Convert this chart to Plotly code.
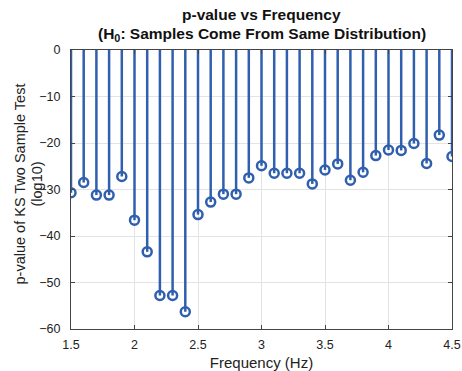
import plotly.graph_objects as go

freq = [1.5, 1.6, 1.7, 1.8, 1.9, 2.0, 2.1, 2.2, 2.3, 2.4, 2.5, 2.6, 2.7, 2.8, 2.9,
        3.0, 3.1, 3.2, 3.3, 3.4, 3.5, 3.6, 3.7, 3.8, 3.9, 4.0, 4.1, 4.2, 4.3, 4.4, 4.5]
log_p = [-30.7, -28.5, -31.2, -31.2, -27.2, -36.6, -43.4, -52.8, -52.8, -56.3, -35.4,
         -32.7, -31.0, -31.0, -27.5, -24.9, -26.5, -26.5, -26.5, -28.8, -25.8, -24.5,
         -28.0, -26.3, -22.7, -21.5, -21.6, -20.1, -24.4, -18.3, -22.9]
x_ticks = [1.5, 2, 2.5, 3, 3.5, 4, 4.5]
y_ticks = [-60, -50, -40, -30, -20, -10, 0]
title_lines = ["p-value vs Frequency", "(H<sub>0</sub>: Samples Come From Same Distribution)"]
ytitle_lines = ["p-value of KS Two Sample Test", "(log10)"]

color = "#2f5fae"
font = "Liberation Sans, Arial, sans-serif"

sx, sy = [], []
for f, v in zip(freq, log_p):
    sx += [f, f, None]
    sy += [0, v, None]

fig = go.Figure()
fig.add_trace(go.Scatter(x=sx, y=sy, mode="lines",
                         line=dict(color=color, width=2.5), hoverinfo="skip"))
fig.add_trace(go.Scatter(x=freq, y=log_p, mode="markers",
                         marker=dict(symbol="circle-open", size=9, color=color,
                                     line=dict(width=2.5, color=color))))

axis_common = dict(showline=True, linecolor="#444", linewidth=1, mirror="ticks",
                   ticks="inside", ticklen=4, tickcolor="#444", automargin=False,
                   showgrid=True, gridcolor="#e3e3e3", gridwidth=1, zeroline=False,
                   tickfont=dict(family=font, size=12.5, color="#222"))

for txt, shift in zip(title_lines, [36, 16]):
    fig.add_annotation(text="<b>" + txt + "</b>", x=0.5, xref="paper", y=1, yref="paper",
                       xanchor="center", yanchor="middle", yshift=shift, showarrow=False,
                       font=dict(family=font, size=15.5, color="#111"))

for txt, shift in zip(ytitle_lines, [-52, -35]):
    fig.add_annotation(text=txt, x=0, xref="paper", y=0.5, yref="paper",
                       xanchor="center", yanchor="middle", xshift=shift, yshift=5,
                       textangle=-90, showarrow=False,
                       font=dict(family=font, size=14.5, color="#222"))

fig.update_layout(
    width=462, height=371,
    margin=dict(l=71, r=10, t=50, b=42),
    paper_bgcolor="white", plot_bgcolor="white",
    showlegend=False,
    xaxis=dict(range=[1.5, 4.5], tickvals=x_ticks, ticktext=[str(t) for t in x_ticks],
               ticklabelstandoff=4,
               title=dict(text="Frequency (Hz)", font=dict(family=font, size=15, color="#222"),
                          standoff=7),
               **axis_common),
    yaxis=dict(range=[-60, 0], tickvals=y_ticks, ticklabelstandoff=7,
               **axis_common),
)

fig.write_html("out.html")
